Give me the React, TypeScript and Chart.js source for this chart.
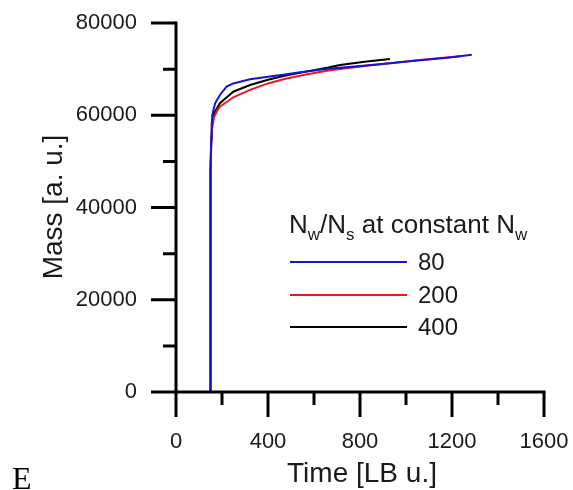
import React, { useEffect, useRef } from "react";
import { Chart, registerables } from "chart.js";

Chart.register(...registerables);

// ---- data ----
const blueTime = [148, 149, 150, 151, 153, 155, 158, 162, 170, 191, 220, 249, 322, 423, 467, 540, 662, 800, 930, 1050, 1180, 1286];
const blueMass = [0, 15000, 35000, 48000, 55000, 58000, 60000, 61000, 62600, 64400, 66200, 66900, 67800, 68500, 68800, 69300, 70100, 70700, 71250, 71850, 72450, 73100];

const redTime = [148, 149, 150, 151, 153, 157, 165, 177, 191, 249, 322, 400, 467, 560, 662, 750, 830, 930, 1050, 1150, 1235];
const redMass = [0, 15000, 35000, 47000, 53000, 57000, 59500, 60800, 61850, 63900, 65500, 66900, 67800, 68800, 69700, 70250, 70750, 71260, 71900, 72400, 72800];

const blackTime = [148, 149, 150, 151, 153, 157, 162, 170, 191, 249, 322, 400, 467, 560, 662, 713, 820, 930];
const blackMass = [0, 15000, 35000, 48000, 54000, 58000, 59800, 60800, 62600, 65100, 66560, 67700, 68500, 69400, 70350, 70900, 71600, 72190];

const seriesLabels = ["80", "200", "400"];
const xMajorTicks = [0, 400, 800, 1200, 1600];
const xMinorTicks = [200, 600, 1000, 1400];
const yMajorTicks = [0, 20000, 40000, 60000, 80000];
const yMinorTicks = [10000, 30000, 50000, 70000];

const xTitle = "Time [LB u.]";
const yTitle = "Mass [a. u.]";
const panelLetter = "E";

const BLUE = "#1414d2";
const RED = "#e8191f";
const BLACK = "#000000";
const TEXT = "#1a1a1a";
const SANS = "'Liberation Sans', Arial, sans-serif";

const toPoints = (t: number[], m: number[]) => t.map((v, i) => ({ x: v, y: m[i] }));

const overlay = {
  id: "overlay",
  afterDraw(chart: any) {
    const { ctx } = chart;
    const x = chart.scales.x;
    const y = chart.scales.y;
    const x0 = x.getPixelForValue(0);
    const x1 = x.getPixelForValue(1600);
    const y0 = y.getPixelForValue(0);
    const y1 = y.getPixelForValue(80000);
    ctx.save();
    ctx.strokeStyle = "#000";
    ctx.lineWidth = 3;
    ctx.lineCap = "butt";
    // axes
    ctx.beginPath();
    ctx.moveTo(x0, y1 - 1.5);
    ctx.lineTo(x0, y0);
    ctx.moveTo(x0, y0);
    ctx.lineTo(x1 + 1.5, y0);
    ctx.stroke();
    // ticks
    ctx.beginPath();
    xMajorTicks.forEach((v) => {
      const px = x.getPixelForValue(v);
      ctx.moveTo(px, y0);
      ctx.lineTo(px, y0 + 25);
    });
    xMinorTicks.forEach((v) => {
      const px = x.getPixelForValue(v);
      ctx.moveTo(px, y0);
      ctx.lineTo(px, y0 + 13);
    });
    yMajorTicks.forEach((v) => {
      const py = y.getPixelForValue(v);
      ctx.moveTo(x0, py);
      ctx.lineTo(x0 - 25, py);
    });
    yMinorTicks.forEach((v) => {
      const py = y.getPixelForValue(v);
      ctx.moveTo(x0, py);
      ctx.lineTo(x0 - 13, py);
    });
    ctx.stroke();

    // axis titles
    ctx.fillStyle = TEXT;
    ctx.font = `28px ${SANS}`;
    ctx.textAlign = "center";
    ctx.textBaseline = "alphabetic";
    ctx.fillText(xTitle, 362, 482);
    ctx.save();
    ctx.translate(62, 207);
    ctx.rotate(-Math.PI / 2);
    ctx.fillText(yTitle, 0, 0);
    ctx.restore();

    // panel letter
    ctx.font = `32px 'Liberation Serif', 'Times New Roman', serif`;
    ctx.textAlign = "left";
    ctx.fillStyle = "#000";
    ctx.fillText(panelLetter, 12, 489);

    // legend title with subscripts
    const runs = [
      { t: "N", sub: false },
      { t: "w", sub: true },
      { t: "/N", sub: false },
      { t: "s", sub: true },
      { t: " at constant N", sub: false },
      { t: "w", sub: true },
    ];
    let cx = 289;
    const base = 233;
    ctx.fillStyle = TEXT;
    runs.forEach((r) => {
      ctx.font = r.sub ? `17px ${SANS}` : `26px ${SANS}`;
      ctx.fillText(r.t, cx, r.sub ? base + 7 : base);
      cx += ctx.measureText(r.t).width;
    });

    // legend entries
    const colors = chart.data.datasets.map((d: any) => d.borderColor);
    const rows = [262, 295, 327];
    ctx.lineWidth = 2;
    rows.forEach((ry, i) => {
      ctx.strokeStyle = colors[i];
      ctx.beginPath();
      ctx.moveTo(290, ry);
      ctx.lineTo(407, ry);
      ctx.stroke();
      ctx.fillStyle = TEXT;
      ctx.font = `24px ${SANS}`;
      ctx.textBaseline = "middle";
      ctx.fillText(seriesLabels[i], 418, ry + 1);
    });
    ctx.restore();
  },
};

export default function App() {
  const ref = useRef<HTMLCanvasElement>(null);
  useEffect(() => {
    if (!ref.current) return;
    const chart = new Chart(ref.current, {
      type: "scatter",
      data: {
        datasets: [
          { label: seriesLabels[0], data: toPoints(blueTime, blueMass), borderColor: BLUE, backgroundColor: BLUE, showLine: true, pointRadius: 0, borderWidth: 2, tension: 0 },
          { label: seriesLabels[1], data: toPoints(redTime, redMass), borderColor: RED, backgroundColor: RED, showLine: true, pointRadius: 0, borderWidth: 2, tension: 0 },
          { label: seriesLabels[2], data: toPoints(blackTime, blackMass), borderColor: BLACK, backgroundColor: BLACK, showLine: true, pointRadius: 0, borderWidth: 2, tension: 0 },
        ],
      },
      options: {
        animation: false,
        responsive: false,
        maintainAspectRatio: false,
        layout: { padding: { left: 0, right: 29, top: 23, bottom: 0 } },
        plugins: { legend: { display: false }, tooltip: { enabled: false } },
        scales: {
          x: {
            type: "linear",
            min: 0,
            max: 1600,
            grid: { display: false, drawTicks: false, tickLength: 0 },
            border: { display: false },
            ticks: { stepSize: 400, padding: 37, color: TEXT, font: { family: SANS, size: 22 }, callback: (v: any) => String(v) },
            afterFit: (s: any) => { s.height = 98; s.paddingLeft = 0; s.paddingRight = 0; },
          },
          y: {
            type: "linear",
            min: 0,
            max: 80000,
            grid: { display: false, drawTicks: false, tickLength: 0 },
            border: { display: false },
            ticks: { stepSize: 20000, padding: 39, color: TEXT, font: { family: SANS, size: 22 }, callback: (v: any) => String(v) },
            afterFit: (s: any) => { s.width = 176; s.paddingTop = 0; s.paddingBottom = 0; },
          },
        },
      },
      plugins: [overlay],
    });
    return () => chart.destroy();
  }, []);
  return (
    <div style={{ position: "fixed", left: 0, top: 0, width: 573, height: 490, background: "#fff" }}>
      <canvas ref={ref} width={573} height={490} style={{ display: "block", width: 573, height: 490 }} />
    </div>
  );
}
